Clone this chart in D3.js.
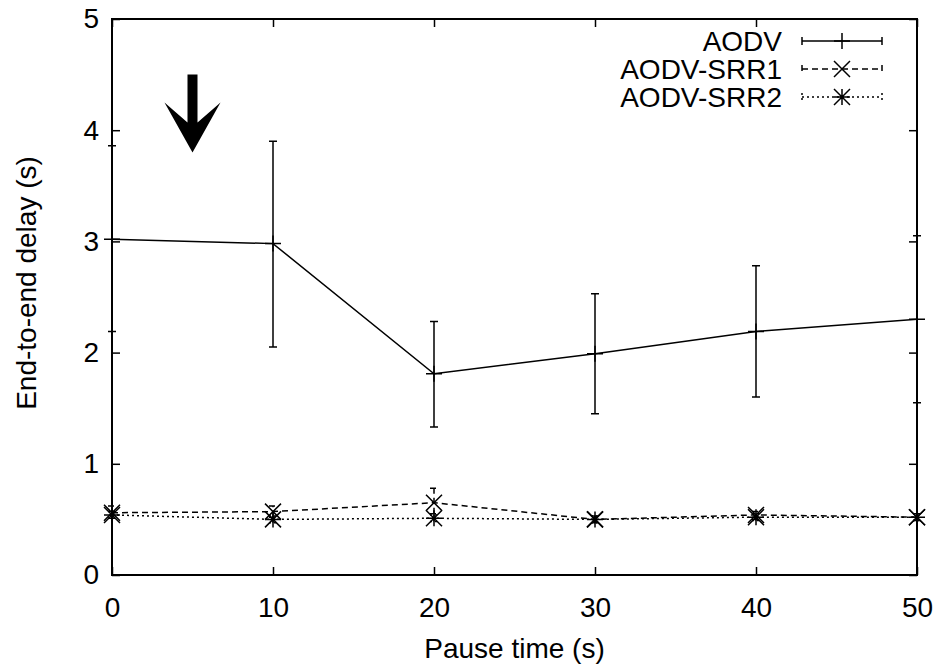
<!DOCTYPE html>
<html>
<head>
<meta charset="utf-8">
<script src="https://cdn.jsdelivr.net/npm/d3@7"></script>
<style>
  html, body { margin: 0; padding: 0; background: #fff; }
  svg { display: block; }
  text { font-family: "Liberation Sans", Arial, Helvetica, sans-serif; fill: #000; }
</style>
</head>
<body>
<svg id="chart" width="943" height="668"></svg>
<script>
// Pause time (s)
const pauseTimes = [0, 10, 20, 30, 40, 50];

// AODV: mean end-to-end delay with min/max error bars
const aodv     = [3.02, 2.98, 1.81, 1.99, 2.19, 2.30];
const aodvLow  = [2.19, 2.05, 1.33, 1.45, 1.60, 1.55];
const aodvHigh = [3.86, 3.90, 2.28, 2.53, 2.78, 3.05];

// AODV-SRR1
const srr1     = [0.56, 0.57, 0.65, 0.50, 0.54, 0.52];
const srr1Low  = [0.51, 0.52, 0.55, 0.47, 0.50, 0.49];
const srr1High = [0.62, 0.62, 0.78, 0.53, 0.57, 0.55];

// AODV-SRR2
const srr2     = [0.54, 0.50, 0.51, 0.50, 0.52, 0.52];
const srr2Low  = [0.51, 0.47, 0.48, 0.47, 0.49, 0.49];
const srr2High = [0.57, 0.53, 0.54, 0.53, 0.55, 0.55];

const xTicks = [0, 10, 20, 30, 40, 50];
const yTicks = [0, 1, 2, 3, 4, 5];
const seriesNames = ["AODV", "AODV-SRR1", "AODV-SRR2"];

// Annotation arrow (data coordinates): from [x, yStart] down to [x, yEnd]
const arrowFrom = [5, 4.5];
const arrowTo   = [5, 3.8];

const W = 943, H = 668;
const margin = { left: 112, right: 26, top: 19, bottom: 93 };
const svg = d3.select("#chart");
svg.append("rect").attr("width", W).attr("height", H).attr("fill", "#fff");

const x = d3.scaleLinear().domain([0, 50]).range([margin.left, W - margin.right]);
const y = d3.scaleLinear().domain([0, 5]).range([H - margin.bottom, margin.top]);

const FS = 28;
const TICK = 8;

// Axes with inward ticks on all four sides
const gx = svg.append("g").attr("transform", `translate(0,${y(0)})`)
  .call(d3.axisBottom(x).tickValues(xTicks).tickSize(-TICK).tickPadding(22).tickFormat(d3.format("d")));
const gxTop = svg.append("g").attr("transform", `translate(0,${y(5)})`)
  .call(d3.axisTop(x).tickValues(xTicks).tickSize(-TICK).tickFormat(""));
const gy = svg.append("g").attr("transform", `translate(${x(0)},0)`)
  .call(d3.axisLeft(y).tickValues(yTicks).tickSize(-TICK).tickPadding(13).tickFormat(d3.format("d")));
const gyRight = svg.append("g").attr("transform", `translate(${x(50)},0)`)
  .call(d3.axisRight(y).tickValues(yTicks).tickSize(-TICK).tickFormat(""));

[gx, gxTop, gy, gyRight].forEach(g => {
  g.select(".domain").remove();
  g.selectAll(".tick line").attr("stroke", "#000").attr("stroke-width", 1.5);
  g.selectAll("text").attr("font-size", FS).attr("font-family", null).attr("fill", "#000");
});
gx.selectAll("text").attr("dy", "0.71em");

// Plot border
svg.append("rect")
  .attr("x", x(0)).attr("y", y(5))
  .attr("width", x(50) - x(0)).attr("height", y(0) - y(5))
  .attr("fill", "none").attr("stroke", "#000").attr("stroke-width", 2);

// Axis titles
svg.append("text")
  .attr("x", (x(0) + x(50)) / 2).attr("y", 658)
  .attr("text-anchor", "middle").attr("font-size", FS)
  .text("Pause time (s)");
svg.append("text")
  .attr("transform", `translate(36,${283}) rotate(-90)`)
  .attr("text-anchor", "middle").attr("font-size", FS)
  .text("End-to-end delay (s)");

// Marker shapes
const M = 8;
function markerPath(type, cx, cy) {
  const p = d3.path();
  if (type === "plus" || type === "star") {
    p.moveTo(cx - M, cy); p.lineTo(cx + M, cy);
    p.moveTo(cx, cy - M); p.lineTo(cx, cy + M);
  }
  if (type === "cross" || type === "star") {
    p.moveTo(cx - M, cy - M); p.lineTo(cx + M, cy + M);
    p.moveTo(cx - M, cy + M); p.lineTo(cx + M, cy - M);
  }
  return p.toString();
}

const series = [
  { name: seriesNames[0], v: aodv, lo: aodvLow, hi: aodvHigh, dash: null, marker: "plus" },
  { name: seriesNames[1], v: srr1, lo: srr1Low, hi: srr1High, dash: "6,4", marker: "cross" },
  { name: seriesNames[2], v: srr2, lo: srr2Low, hi: srr2High, dash: "2,3", marker: "star" }
];

const CAP = 4;
const line = d3.line().x(d => x(d[0])).y(d => y(d[1]));

series.slice().reverse().forEach(s => {
  const g = svg.append("g");
  const pts = pauseTimes.map((t, i) => [t, s.v[i]]);
  // error bars
  pauseTimes.forEach((t, i) => {
    const p = d3.path();
    const cx = x(t);
    p.moveTo(cx, y(s.lo[i])); p.lineTo(cx, y(s.hi[i]));
    p.moveTo(cx - CAP, y(s.lo[i])); p.lineTo(cx + CAP, y(s.lo[i]));
    p.moveTo(cx - CAP, y(s.hi[i])); p.lineTo(cx + CAP, y(s.hi[i]));
    g.append("path").attr("d", p.toString())
      .attr("fill", "none").attr("stroke", "#000").attr("stroke-width", 1.5)
      .attr("stroke-dasharray", s.dash);
  });
  // connecting line
  g.append("path").attr("d", line(pts))
    .attr("fill", "none").attr("stroke", "#000").attr("stroke-width", 1.5)
    .attr("stroke-dasharray", s.dash);
  // point markers
  pts.forEach(d => {
    g.append("path").attr("d", markerPath(s.marker, x(d[0]), y(d[1])))
      .attr("fill", "none").attr("stroke", "#000").attr("stroke-width", 1.5);
  });
});

// Legend
const legX = 782, legLine0 = 802, legLine1 = 882;
const legY = [41, 69, 97];
series.forEach((s, i) => {
  const cy = legY[i];
  svg.append("text").attr("x", legX).attr("y", cy).attr("dy", "0.36em")
    .attr("text-anchor", "end").attr("font-size", FS).text(s.name);
  const p = d3.path();
  p.moveTo(legLine0, cy); p.lineTo(legLine1, cy);
  p.moveTo(legLine0, cy - CAP); p.lineTo(legLine0, cy + CAP);
  p.moveTo(legLine1, cy - CAP); p.lineTo(legLine1, cy + CAP);
  svg.append("path").attr("d", p.toString())
    .attr("fill", "none").attr("stroke", "#000").attr("stroke-width", 1.5)
    .attr("stroke-dasharray", s.dash);
  svg.append("path").attr("d", markerPath(s.marker, (legLine0 + legLine1) / 2, cy))
    .attr("fill", "none").attr("stroke", "#000").attr("stroke-width", 1.5);
});

// Annotation arrow pointing down
(function drawArrow() {
  const ax = x(arrowFrom[0]);
  const top = y(arrowFrom[1]);
  const tip = y(arrowTo[1]);
  const shaftHalf = 5, headHalf = 28, headLen = 50, notch = 30;
  const pts = [
    [ax - shaftHalf, top],
    [ax + shaftHalf, top],
    [ax + shaftHalf, tip - notch],
    [ax + headHalf, tip - headLen],
    [ax, tip],
    [ax - headHalf, tip - headLen],
    [ax - shaftHalf, tip - notch]
  ];
  svg.append("path").attr("d", d3.line()(pts) + "Z").attr("fill", "#000");
})();
</script>
</body>
</html>
